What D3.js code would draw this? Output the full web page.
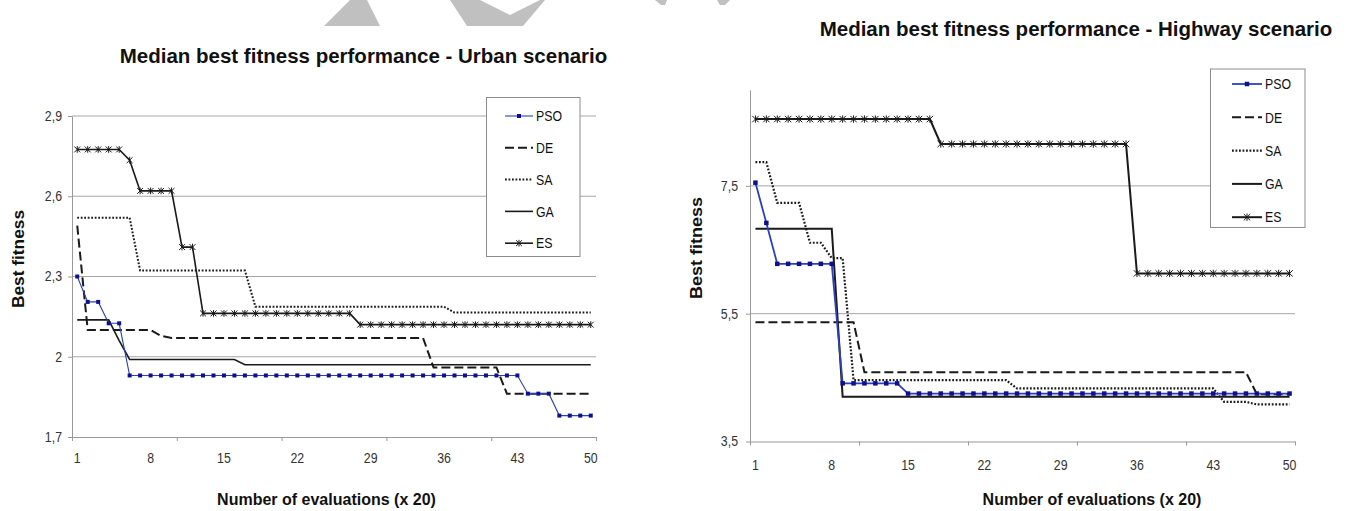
<!DOCTYPE html>
<html>
<head>
<meta charset="utf-8">
<script src="https://cdn.jsdelivr.net/npm/d3@7"></script>
<style>
body { margin: 0; background: #fff; }
svg { display: block; font-family: "Liberation Sans", Arial, sans-serif; }
</style>
</head>
<body>
<svg id="chart" width="1349" height="511"></svg>
<script>
// evaluation steps (x 20)
var categories = [
    1, 2, 3, 4, 5, 6, 7, 8, 9, 10,
    11, 12, 13, 14, 15, 16, 17, 18, 19, 20,
    21, 22, 23, 24, 25, 26, 27, 28, 29, 30,
    31, 32, 33, 34, 35, 36, 37, 38, 39, 40,
    41, 42, 43, 44, 45, 46, 47, 48, 49, 50
];
var xTickLabels = [1, 8, 15, 22, 29, 36, 43, 50];
var xTickMarks = [1, 11, 21, 31, 41, 51];
var seriesNames = ["PSO", "DE", "SA", "GA", "ES"];

// urban scenario
var urbanYTicks = [1.7, 2.0, 2.3, 2.6, 2.9];
var urbanPSO = [
    2.30, 2.205, 2.205, 2.125, 2.125, 1.93, 1.93, 1.93, 1.93, 1.93,
    1.93, 1.93, 1.93, 1.93, 1.93, 1.93, 1.93, 1.93, 1.93, 1.93,
    1.93, 1.93, 1.93, 1.93, 1.93, 1.93, 1.93, 1.93, 1.93, 1.93,
    1.93, 1.93, 1.93, 1.93, 1.93, 1.93, 1.93, 1.93, 1.93, 1.93,
    1.93, 1.93, 1.93, 1.862, 1.862, 1.862, 1.78, 1.78, 1.78, 1.78
];
var urbanDE = [
    2.49, 2.10, 2.10, 2.10, 2.10, 2.10, 2.10, 2.10, 2.078, 2.07,
    2.07, 2.07, 2.07, 2.07, 2.07, 2.07, 2.07, 2.07, 2.07, 2.07,
    2.07, 2.07, 2.07, 2.07, 2.07, 2.07, 2.07, 2.07, 2.07, 2.07,
    2.07, 2.07, 2.07, 2.07, 1.96, 1.96, 1.96, 1.96, 1.96, 1.96,
    1.96, 1.862, 1.862, 1.862, 1.862, 1.862, 1.862, 1.862, 1.862, 1.862
];
var urbanSA = [
    2.52, 2.52, 2.52, 2.52, 2.52, 2.52, 2.322, 2.322, 2.322, 2.322,
    2.322, 2.322, 2.322, 2.322, 2.322, 2.322, 2.322, 2.187, 2.187, 2.187,
    2.187, 2.187, 2.187, 2.187, 2.187, 2.187, 2.187, 2.187, 2.187, 2.187,
    2.187, 2.187, 2.187, 2.187, 2.187, 2.187, 2.165, 2.165, 2.165, 2.165,
    2.165, 2.165, 2.165, 2.165, 2.165, 2.165, 2.165, 2.165, 2.165, 2.165
];
var urbanGA = [
    2.138, 2.138, 2.138, 2.138, 2.06, 1.99, 1.99, 1.99, 1.99, 1.99,
    1.99, 1.99, 1.99, 1.99, 1.99, 1.99, 1.97, 1.97, 1.97, 1.97,
    1.97, 1.97, 1.97, 1.97, 1.97, 1.97, 1.97, 1.97, 1.97, 1.97,
    1.97, 1.97, 1.97, 1.97, 1.97, 1.97, 1.97, 1.97, 1.97, 1.97,
    1.97, 1.97, 1.97, 1.97, 1.97, 1.97, 1.97, 1.97, 1.97, 1.97
];
var urbanES = [
    2.775, 2.775, 2.775, 2.775, 2.775, 2.735, 2.62, 2.62, 2.62, 2.62,
    2.41, 2.41, 2.162, 2.162, 2.162, 2.162, 2.162, 2.162, 2.162, 2.162,
    2.162, 2.162, 2.162, 2.162, 2.162, 2.162, 2.162, 2.12, 2.12, 2.12,
    2.12, 2.12, 2.12, 2.12, 2.12, 2.12, 2.12, 2.12, 2.12, 2.12,
    2.12, 2.12, 2.12, 2.12, 2.12, 2.12, 2.12, 2.12, 2.12, 2.12
];

// highway scenario
var highwayYTicks = [3.5, 5.5, 7.5];
var highwayPSO = [
    7.55, 6.92, 6.28, 6.28, 6.28, 6.28, 6.28, 6.28, 4.41, 4.41,
    4.41, 4.41, 4.41, 4.41, 4.25, 4.25, 4.25, 4.25, 4.25, 4.25,
    4.25, 4.25, 4.25, 4.25, 4.25, 4.25, 4.25, 4.25, 4.25, 4.25,
    4.25, 4.25, 4.25, 4.25, 4.25, 4.25, 4.25, 4.25, 4.25, 4.25,
    4.25, 4.25, 4.25, 4.25, 4.25, 4.25, 4.25, 4.25, 4.25, 4.25
];
var highwayDE = [
    5.365, 5.365, 5.365, 5.365, 5.365, 5.365, 5.365, 5.365, 5.365, 5.365,
    4.585, 4.585, 4.585, 4.585, 4.585, 4.585, 4.585, 4.585, 4.585, 4.585,
    4.585, 4.585, 4.585, 4.585, 4.585, 4.585, 4.585, 4.585, 4.585, 4.585,
    4.585, 4.585, 4.585, 4.585, 4.585, 4.585, 4.585, 4.585, 4.585, 4.585,
    4.585, 4.585, 4.585, 4.585, 4.585, 4.585, 4.24, 4.24, 4.24, 4.24
];
var highwaySA = [
    7.87, 7.87, 7.235, 7.235, 7.235, 6.61, 6.61, 6.37, 6.37, 4.46,
    4.46, 4.46, 4.46, 4.46, 4.46, 4.46, 4.46, 4.46, 4.46, 4.46,
    4.46, 4.46, 4.46, 4.46, 4.33, 4.33, 4.33, 4.33, 4.33, 4.33,
    4.33, 4.33, 4.33, 4.33, 4.33, 4.33, 4.33, 4.33, 4.33, 4.33,
    4.33, 4.33, 4.33, 4.12, 4.12, 4.12, 4.08, 4.08, 4.08, 4.08
];
var highwayGA = [
    6.83, 6.83, 6.83, 6.83, 6.83, 6.83, 6.83, 6.83, 4.2, 4.2,
    4.2, 4.2, 4.2, 4.2, 4.2, 4.2, 4.2, 4.2, 4.2, 4.2,
    4.2, 4.2, 4.2, 4.2, 4.2, 4.2, 4.2, 4.2, 4.2, 4.2,
    4.2, 4.2, 4.2, 4.2, 4.2, 4.2, 4.2, 4.2, 4.2, 4.2,
    4.2, 4.2, 4.2, 4.2, 4.2, 4.2, 4.2, 4.2, 4.2, 4.2
];
var highwayES = [
    8.545, 8.545, 8.545, 8.545, 8.545, 8.545, 8.545, 8.545, 8.545, 8.545,
    8.545, 8.545, 8.545, 8.545, 8.545, 8.545, 8.545, 8.155, 8.155, 8.155,
    8.155, 8.155, 8.155, 8.155, 8.155, 8.155, 8.155, 8.155, 8.155, 8.155,
    8.155, 8.155, 8.155, 8.155, 8.155, 6.13, 6.13, 6.13, 6.13, 6.13,
    6.13, 6.13, 6.13, 6.13, 6.13, 6.13, 6.13, 6.13, 6.13, 6.13
];

var svg = d3.select("#chart");

// faint watermark shapes along the top edge
var marks = [
    [[324, 26], [350, 0], [367, 0], [380, 26]],
    [[450, 0], [467, 26], [523, 26], [545, 0], [540, 0], [510, 15], [480, 0]],
    [[655, 0], [667, 0], [665, 5], [661, 5]],
    [[717, 0], [730, 0], [725, 5], [720, 5]]
];
svg.selectAll(".wm").data(marks).enter().append("polygon")
    .attr("class", "wm")
    .attr("points", function (d) { return d.join(" "); })
    .attr("fill", "#c0c0c0");

var fmt = function (v) { return String(v).replace(".", ","); };

// the original text looks a bit stretched vertically, so squeeze it sideways
function squeeze(sel, k) {
    sel.each(function () {
        var w = this.getComputedTextLength();
        d3.select(this).attr("textLength", w * k).attr("lengthAdjust", "spacingAndGlyphs");
    });
}

var ink = "#1a1a1a";
var styles = {
    PSO: { stroke: "#2a40c0", dash: null },
    DE: { stroke: ink, dash: "9,4" },
    SA: { stroke: ink, dash: "1.8,1.7" },
    GA: { stroke: ink, dash: null },
    ES: { stroke: ink, dash: null }
};

function drawMarker(sel, name, s) {
    if (name == "PSO") {
        sel.append("rect")
            .attr("x", -s / 2).attr("y", -s / 2)
            .attr("width", s).attr("height", s)
            .attr("fill", "#10108c");
    } else if (name == "ES") {
        var h = s * 0.7;
        sel.append("path")
            .attr("d", "M" + (-h) + "," + (-h) + "L" + h + "," + h +
                "M" + (-h) + "," + h + "L" + h + "," + (-h) +
                "M0," + (-s * 0.8) + "L0," + (s * 0.8))
            .attr("stroke", ink).attr("stroke-width", 1).attr("fill", "none");
    }
}

function drawChart(c) {
    var g = svg.append("g");

    var x = d3.scaleBand().domain(categories).range([c.x0, c.x1]).padding(0);
    var bw = x.bandwidth();
    var xb = d3.scaleLinear().domain([1, 51]).range([c.x0, c.x1]);
    var y = d3.scaleLinear().domain(c.domain).range([c.yBottom, c.yTop]);

    // gridlines
    g.selectAll(".grid").data(c.yTicks.slice(1)).enter().append("line")
        .attr("x1", c.x0).attr("x2", c.x1)
        .attr("y1", function (d) { return y(d); })
        .attr("y2", function (d) { return y(d); })
        .attr("stroke", "#a6a6a6").attr("stroke-width", 1);

    // y axis
    var ya = g.append("g")
        .attr("transform", "translate(" + c.x0 + ",0)")
        .call(d3.axisLeft(y).tickValues(c.yTicks).tickFormat(fmt)
            .tickSize(4).tickSizeOuter(0).tickPadding(c.yPad));
    ya.select(".domain").attr("stroke", "#999");
    ya.selectAll(".tick line").attr("stroke", "#999");
    ya.selectAll("text").attr("font-size", 14).attr("fill", "#333")
        .attr("font-family", "Liberation Sans, Arial, sans-serif")
        .call(squeeze, 0.88);

    // x axis: tick marks every 10 categories, labels every 7
    var xm = g.append("g")
        .attr("transform", "translate(0," + c.yBottom + ")")
        .call(d3.axisBottom(xb).tickValues(xTickMarks).tickFormat("")
            .tickSize(4).tickSizeOuter(0));
    xm.select(".domain").attr("stroke", "#999");
    xm.selectAll(".tick line").attr("stroke", "#999");

    var xl = g.append("g")
        .attr("transform", "translate(0," + c.yBottom + ")")
        .call(d3.axisBottom(x).tickValues(xTickLabels).tickSize(0).tickPadding(c.xPad));
    xl.select(".domain").remove();
    xl.selectAll("text").attr("font-size", 14).attr("fill", "#333")
        .attr("font-family", "Liberation Sans, Arial, sans-serif")
        .call(squeeze, 0.88);

    var cx = function (i) { return x(categories[i]) + bw / 2; };
    var line = d3.line()
        .x(function (d, i) { return cx(i); })
        .y(function (d) { return y(d); });

    var order = ["GA", "DE", "SA", "ES", "PSO"];
    order.forEach(function (name) {
        var st = styles[name];
        g.append("path")
            .datum(c.series[name])
            .attr("d", line)
            .attr("fill", "none")
            .attr("stroke", st.stroke)
            .attr("stroke-width", c.widths[name])
            .attr("stroke-dasharray", st.dash);
        if (name == "PSO" || name == "ES") {
            g.selectAll(".m" + name).data(c.series[name]).enter().append("g")
                .attr("class", "m" + name)
                .attr("transform", function (d, i) { return "translate(" + cx(i) + "," + y(d) + ")"; })
                .each(function () { drawMarker(d3.select(this), name, c.markerSize[name]); });
        }
    });

    // legend
    var L = c.legend;
    g.append("rect")
        .attr("x", L.x).attr("y", L.y).attr("width", L.w).attr("height", L.h)
        .attr("fill", "#fff").attr("stroke", "#8c8c8c").attr("stroke-width", 1);
    seriesNames.forEach(function (name, i) {
        var ry = L.row0 + i * L.step;
        var st = styles[name];
        var lg = g.append("g");
        lg.append("line")
            .attr("x1", L.s0).attr("x2", L.s1).attr("y1", ry).attr("y2", ry)
            .attr("stroke", st.stroke).attr("stroke-width", c.widths[name])
            .attr("stroke-dasharray", st.dash);
        var mk = lg.append("g").attr("transform", "translate(" + ((L.s0 + L.s1) / 2) + "," + ry + ")");
        drawMarker(mk, name, c.markerSize[name]);
        lg.append("text")
            .attr("x", L.s1 + 3).attr("y", ry).attr("dy", "0.36em")
            .attr("font-size", 14.5).attr("fill", "#111")
            .text(name)
            .call(squeeze, 0.85);
    });

    // titles
    g.append("text")
        .attr("x", c.title[0]).attr("y", c.title[1])
        .attr("text-anchor", "middle").attr("font-weight", "bold")
        .attr("font-size", 20.5).attr("fill", "#111")
        .text(c.titleText);
    g.append("text")
        .attr("transform", "translate(" + c.yTitle[0] + "," + c.yTitle[1] + ") rotate(-90)")
        .attr("text-anchor", "middle").attr("font-weight", "bold")
        .attr("font-size", 16).attr("fill", "#111")
        .attr("textLength", c.yTitle[2]).attr("lengthAdjust", "spacingAndGlyphs")
        .text("Best fitness");
    g.append("text")
        .attr("x", c.xTitle[0]).attr("y", c.xTitle[1])
        .attr("text-anchor", "middle").attr("font-weight", "bold")
        .attr("font-size", 16.5).attr("fill", "#111")
        .text("Number of evaluations (x 20)")
        .call(squeeze, 0.97);
}

drawChart({
    x0: 72, x1: 596, yBottom: 437, yTop: 116,
    domain: [1.7, 2.9], yTicks: urbanYTicks, yPad: 6, xPad: 16.5,
    series: { PSO: urbanPSO, DE: urbanDE, SA: urbanSA, GA: urbanGA, ES: urbanES },
    widths: { PSO: 1.1, DE: 2, SA: 2, GA: 1.6, ES: 1.6 },
    markerSize: { PSO: 4, ES: 4.2 },
    legend: { x: 486.5, y: 97.5, w: 93.5, h: 159, row0: 116, step: 31.8, s0: 505, s1: 533 },
    titleText: "Median best fitness performance - Urban scenario",
    title: [363.5, 63],
    yTitle: [23.5, 259, 98],
    xTitle: [326.5, 505]
});

drawChart({
    x0: 750, x1: 1295, yBottom: 441.5, yTop: 90,
    domain: [3.5, 9], yTicks: highwayYTicks, yPad: 8, xPad: 18.5,
    series: { PSO: highwayPSO, DE: highwayDE, SA: highwaySA, GA: highwayGA, ES: highwayES },
    widths: { PSO: 1.8, DE: 2, SA: 2.2, GA: 2, ES: 2 },
    markerSize: { PSO: 4.5, ES: 4.6 },
    legend: { x: 1210.5, y: 69, w: 94.5, h: 158.5, row0: 84, step: 33.3, s0: 1232, s1: 1262 },
    titleText: "Median best fitness performance - Highway scenario",
    title: [1076, 36],
    yTitle: [702, 248, 102],
    xTitle: [1092, 505]
});
</script>
</body>
</html>
